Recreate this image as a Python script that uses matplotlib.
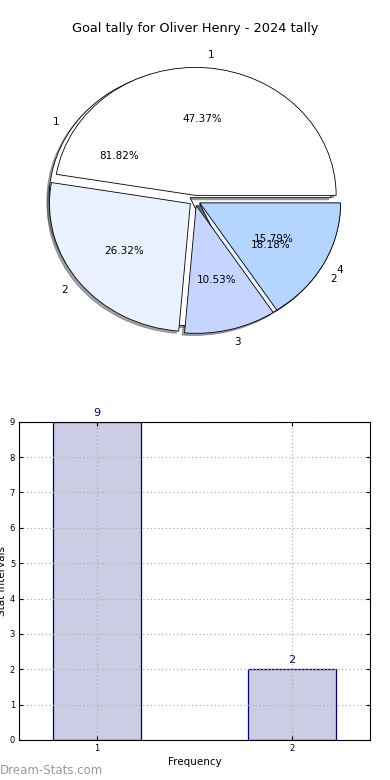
import matplotlib
matplotlib.use("Agg")
import matplotlib.pyplot as plt

plt.rcParams['font.family'] = "DejaVu Sans"

title = "Goal tally for Oliver Henry - 2024 tally"

# pie of the goal tally (drawn on top)
tally_labels = ["1", "2", "3", "4"]
tally_values = [9, 5, 2, 3]

# pie of the frequencies (drawn underneath)
freq_labels = ["1", "2"]
freq_values = [9, 2]

# bar chart
bar_x = [1, 2]
bar_counts = [9, 2]

pie_colors = ["#ffffff", "#eaf1ff", "#c5d5ff", "#b4d5ff"]
shadow = dict(ox=-0.012, oy=-0.012)

fig = plt.figure(figsize=(3.9, 7.8), dpi=100)

# --- pie ---
ax1 = fig.add_axes([0.048, 0.538, 0.903, 0.410])
ax1.pie(freq_values, labels=freq_labels, colors=pie_colors[:2],
        explode=[0.04] * len(freq_values), autopct="%1.2f%%", shadow=shadow,
        wedgeprops=dict(edgecolor="black", linewidth=0.6),
        textprops=dict(fontsize=7.5))
ax1.pie(tally_values, labels=tally_labels, colors=pie_colors,
        explode=[0.04] * len(tally_values), autopct="%1.2f%%", shadow=shadow,
        wedgeprops=dict(edgecolor="black", linewidth=0.6),
        textprops=dict(fontsize=7.5))
ax1.set_aspect("auto")
ax1.set_xlim(-1.25, 1.25)
ax1.set_ylim(-1.25, 1.25)
ax1.set_title(title, fontsize=9.3, pad=6)

# --- bars ---
ax2 = fig.add_axes([0.0495, 0.0513, 0.899, 0.408])
ax2.bar(bar_x, bar_counts, width=0.45, color="#ccccE4", edgecolor="#000080",
        linewidth=0.9, zorder=2)
for x, c in zip(bar_x, bar_counts):
    ax2.text(x, c + 0.12, str(c), ha="center", va="bottom", color="#000080", fontsize=8)
ax2.set_xlim(0.6, 2.4)
ax2.set_ylim(0, 9)
ax2.set_xticks(bar_x)
ax2.set_yticks(range(0, 10))
ax2.tick_params(direction="in", top=True, right=True, labelsize=6, length=3, pad=3)
ax2.grid(True, linestyle=(0, (1, 2)), color="#b0b0b0", linewidth=0.9, zorder=3)
ax2.set_axisbelow(False)
for sp in ax2.spines.values():
    sp.set_zorder(5)
ax2.set_xlabel("Frequency", fontsize=7.5, labelpad=3)
ax2.set_ylabel("Stat intervals", fontsize=7.5, labelpad=2)

fig.text(0.0, 0.004, "Dream-Stats.com", color="#999999", fontsize=8.5,
         ha="left", va="bottom")

fig.savefig("out.png", dpi=100)
